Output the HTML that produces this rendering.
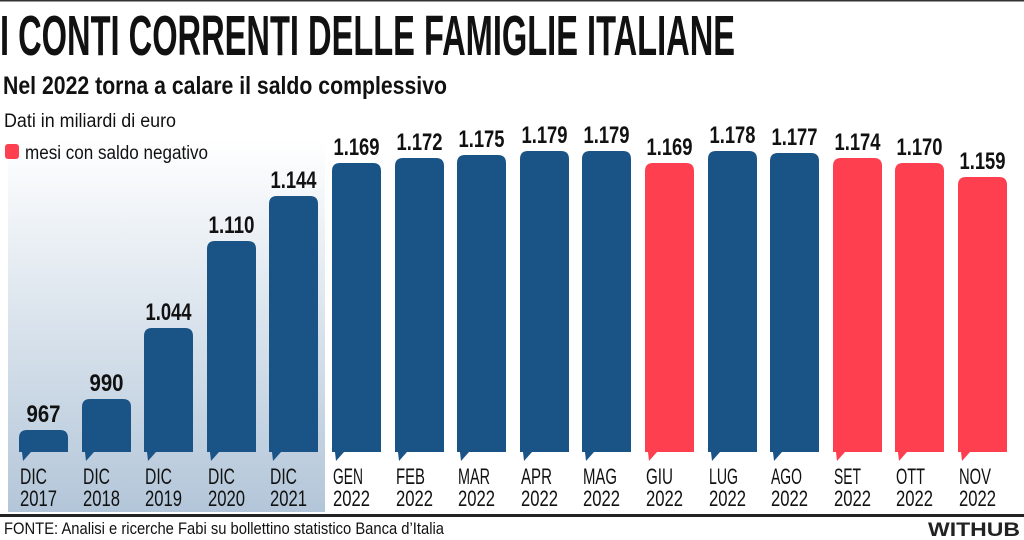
<!DOCTYPE html>
<html><head><meta charset="utf-8"><style>
html,body{margin:0;padding:0;background:#fff;width:1024px;height:540px;overflow:hidden}
svg{display:block}
text{font-family:"Liberation Sans Narrow","Liberation Sans",sans-serif}
.v{font-size:24px;font-weight:bold;fill:#111;text-anchor:middle}
.c{font-size:22px;fill:#111}
</style></head><body>
<svg width="1024" height="540" viewBox="0 0 1024 540" xmlns="http://www.w3.org/2000/svg">
<defs>
<linearGradient id="g" x1="0" y1="0" x2="0" y2="1">
<stop offset="0" stop-color="#ffffff"/>
<stop offset="1" stop-color="#b3c6d9"/>
</linearGradient>
</defs>
<rect x="0" y="0" width="1024" height="1.5" fill="#333"/>
<rect x="8" y="140" width="317" height="372" fill="url(#g)"/>
<text x="0" y="55" font-size="57" font-weight="bold" fill="#111" textLength="735" lengthAdjust="spacingAndGlyphs">I CONTI CORRENTI DELLE FAMIGLIE ITALIANE</text>
<text x="3" y="94" font-size="25" font-weight="bold" fill="#111" textLength="444" lengthAdjust="spacingAndGlyphs">Nel 2022 torna a calare il saldo complessivo</text>
<text x="4" y="127" font-size="19" fill="#111" textLength="172" lengthAdjust="spacingAndGlyphs">Dati in miliardi di euro</text>
<rect x="5" y="144" width="14" height="15" rx="3" fill="#fe3f4f"/>
<text x="25" y="159" font-size="19" fill="#111" textLength="183" lengthAdjust="spacingAndGlyphs">mesi con saldo negativo</text>

<g transform="translate(19,0)"><path d="M0,452 V438 Q0,430 8,430 H41 Q49,430 49,438 V452 H12 L4,461 L3,452 Z" fill="#1a5385"/><text class="v" x="24.5" y="422" textLength="34" lengthAdjust="spacingAndGlyphs">967</text><text class="c" x="1" y="484" textLength="27" lengthAdjust="spacingAndGlyphs">DIC</text><text class="c" x="1" y="506" textLength="37" lengthAdjust="spacingAndGlyphs">2017</text></g>
<g transform="translate(82,0)"><path d="M0,452 V407 Q0,399 8,399 H41 Q49,399 49,407 V452 H12 L4,461 L3,452 Z" fill="#1a5385"/><text class="v" x="24.5" y="391" textLength="34" lengthAdjust="spacingAndGlyphs">990</text><text class="c" x="1" y="484" textLength="27" lengthAdjust="spacingAndGlyphs">DIC</text><text class="c" x="1" y="506" textLength="37" lengthAdjust="spacingAndGlyphs">2018</text></g>
<g transform="translate(144,0)"><path d="M0,452 V336 Q0,328 8,328 H41 Q49,328 49,336 V452 H12 L4,461 L3,452 Z" fill="#1a5385"/><text class="v" x="24.5" y="320" textLength="46" lengthAdjust="spacingAndGlyphs">1.044</text><text class="c" x="1" y="484" textLength="27" lengthAdjust="spacingAndGlyphs">DIC</text><text class="c" x="1" y="506" textLength="37" lengthAdjust="spacingAndGlyphs">2019</text></g>
<g transform="translate(207,0)"><path d="M0,452 V249 Q0,241 8,241 H41 Q49,241 49,249 V452 H12 L4,461 L3,452 Z" fill="#1a5385"/><text class="v" x="24.5" y="233" textLength="46" lengthAdjust="spacingAndGlyphs">1.110</text><text class="c" x="1" y="484" textLength="27" lengthAdjust="spacingAndGlyphs">DIC</text><text class="c" x="1" y="506" textLength="37" lengthAdjust="spacingAndGlyphs">2020</text></g>
<g transform="translate(269,0)"><path d="M0,452 V204 Q0,196 8,196 H41 Q49,196 49,204 V452 H12 L4,461 L3,452 Z" fill="#1a5385"/><text class="v" x="24.5" y="188" textLength="46" lengthAdjust="spacingAndGlyphs">1.144</text><text class="c" x="1" y="484" textLength="27" lengthAdjust="spacingAndGlyphs">DIC</text><text class="c" x="1" y="506" textLength="37" lengthAdjust="spacingAndGlyphs">2021</text></g>
<g transform="translate(332,0)"><path d="M0,452 V171 Q0,163 8,163 H41 Q49,163 49,171 V452 H12 L4,461 L3,452 Z" fill="#1a5385"/><text class="v" x="24.5" y="155" textLength="46" lengthAdjust="spacingAndGlyphs">1.169</text><text class="c" x="1" y="484" textLength="30" lengthAdjust="spacingAndGlyphs">GEN</text><text class="c" x="1" y="506" textLength="37" lengthAdjust="spacingAndGlyphs">2022</text></g>
<g transform="translate(395,0)"><path d="M0,452 V166 Q0,158 8,158 H41 Q49,158 49,166 V452 H12 L4,461 L3,452 Z" fill="#1a5385"/><text class="v" x="24.5" y="150" textLength="46" lengthAdjust="spacingAndGlyphs">1.172</text><text class="c" x="1" y="484" textLength="29" lengthAdjust="spacingAndGlyphs">FEB</text><text class="c" x="1" y="506" textLength="37" lengthAdjust="spacingAndGlyphs">2022</text></g>
<g transform="translate(457,0)"><path d="M0,452 V163 Q0,155 8,155 H41 Q49,155 49,163 V452 H12 L4,461 L3,452 Z" fill="#1a5385"/><text class="v" x="24.5" y="147" textLength="46" lengthAdjust="spacingAndGlyphs">1.175</text><text class="c" x="1" y="484" textLength="32" lengthAdjust="spacingAndGlyphs">MAR</text><text class="c" x="1" y="506" textLength="37" lengthAdjust="spacingAndGlyphs">2022</text></g>
<g transform="translate(520,0)"><path d="M0,452 V159 Q0,151 8,151 H41 Q49,151 49,159 V452 H12 L4,461 L3,452 Z" fill="#1a5385"/><text class="v" x="24.5" y="143" textLength="46" lengthAdjust="spacingAndGlyphs">1.179</text><text class="c" x="1" y="484" textLength="31" lengthAdjust="spacingAndGlyphs">APR</text><text class="c" x="1" y="506" textLength="37" lengthAdjust="spacingAndGlyphs">2022</text></g>
<g transform="translate(582,0)"><path d="M0,452 V159 Q0,151 8,151 H41 Q49,151 49,159 V452 H12 L4,461 L3,452 Z" fill="#1a5385"/><text class="v" x="24.5" y="143" textLength="46" lengthAdjust="spacingAndGlyphs">1.179</text><text class="c" x="1" y="484" textLength="34" lengthAdjust="spacingAndGlyphs">MAG</text><text class="c" x="1" y="506" textLength="37" lengthAdjust="spacingAndGlyphs">2022</text></g>
<g transform="translate(645,0)"><path d="M0,452 V171 Q0,163 8,163 H41 Q49,163 49,171 V452 H12 L4,461 L3,452 Z" fill="#fe3f4f"/><text class="v" x="24.5" y="155" textLength="46" lengthAdjust="spacingAndGlyphs">1.169</text><text class="c" x="1" y="484" textLength="27" lengthAdjust="spacingAndGlyphs">GIU</text><text class="c" x="1" y="506" textLength="37" lengthAdjust="spacingAndGlyphs">2022</text></g>
<g transform="translate(708,0)"><path d="M0,452 V159 Q0,151 8,151 H41 Q49,151 49,159 V452 H12 L4,461 L3,452 Z" fill="#1a5385"/><text class="v" x="24.5" y="143" textLength="46" lengthAdjust="spacingAndGlyphs">1.178</text><text class="c" x="1" y="484" textLength="29" lengthAdjust="spacingAndGlyphs">LUG</text><text class="c" x="1" y="506" textLength="37" lengthAdjust="spacingAndGlyphs">2022</text></g>
<g transform="translate(770,0)"><path d="M0,452 V161 Q0,153 8,153 H41 Q49,153 49,161 V452 H12 L4,461 L3,452 Z" fill="#1a5385"/><text class="v" x="24.5" y="145" textLength="46" lengthAdjust="spacingAndGlyphs">1.177</text><text class="c" x="1" y="484" textLength="31" lengthAdjust="spacingAndGlyphs">AGO</text><text class="c" x="1" y="506" textLength="37" lengthAdjust="spacingAndGlyphs">2022</text></g>
<g transform="translate(833,0)"><path d="M0,452 V166 Q0,158 8,158 H41 Q49,158 49,166 V452 H12 L4,461 L3,452 Z" fill="#fe3f4f"/><text class="v" x="24.5" y="150" textLength="46" lengthAdjust="spacingAndGlyphs">1.174</text><text class="c" x="1" y="484" textLength="27" lengthAdjust="spacingAndGlyphs">SET</text><text class="c" x="1" y="506" textLength="37" lengthAdjust="spacingAndGlyphs">2022</text></g>
<g transform="translate(895,0)"><path d="M0,452 V171 Q0,163 8,163 H41 Q49,163 49,171 V452 H12 L4,461 L3,452 Z" fill="#fe3f4f"/><text class="v" x="24.5" y="155" textLength="46" lengthAdjust="spacingAndGlyphs">1.170</text><text class="c" x="1" y="484" textLength="29" lengthAdjust="spacingAndGlyphs">OTT</text><text class="c" x="1" y="506" textLength="37" lengthAdjust="spacingAndGlyphs">2022</text></g>
<g transform="translate(958,0)"><path d="M0,452 V185 Q0,177 8,177 H41 Q49,177 49,185 V452 H12 L4,461 L3,452 Z" fill="#fe3f4f"/><text class="v" x="24.5" y="169" textLength="46" lengthAdjust="spacingAndGlyphs">1.159</text><text class="c" x="1" y="484" textLength="32" lengthAdjust="spacingAndGlyphs">NOV</text><text class="c" x="1" y="506" textLength="37" lengthAdjust="spacingAndGlyphs">2022</text></g>

<rect x="0" y="514" width="1024" height="3" fill="#222"/>
<text x="4" y="534" font-size="17" fill="#111" textLength="440" lengthAdjust="spacingAndGlyphs">FONTE: Analisi e ricerche Fabi su bollettino statistico Banca d’Italia</text>
<text x="1020" y="536" font-size="19" font-weight="bold" fill="#222" text-anchor="end" font-family="Liberation Sans" textLength="92" lengthAdjust="spacingAndGlyphs">WITHUB</text>
</svg>
</body></html>
